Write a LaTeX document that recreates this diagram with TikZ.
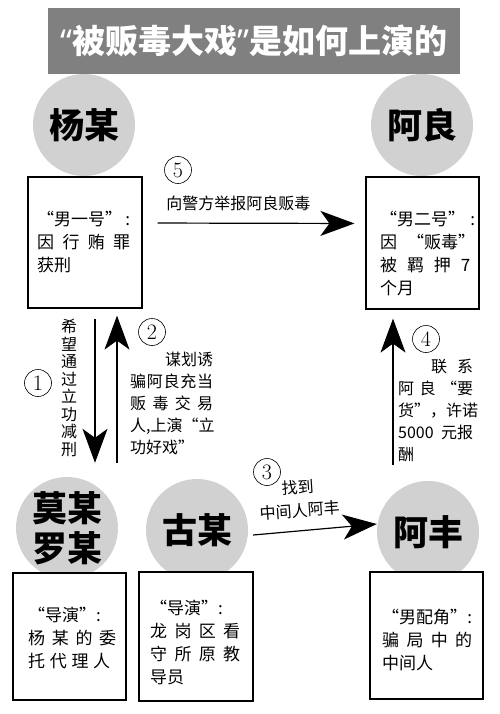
\documentclass[tikz,border=0pt]{standalone}
\usepackage{fontspec}
\newfontfamily\cjk{Noto Sans CJK SC}
\newfontfamily\lat{Noto Sans}
\usepackage{tikz}
\usetikzlibrary{arrows.meta, positioning}
\definecolor{barGray}{gray}{0.5}
\definecolor{ballGray}{gray}{0.82}
\tikzset{
  titlebar/.style={fill=barGray, text=white, minimum width=412pt, minimum height=66pt,
    font=\cjk\bfseries\fontsize{33}{33}\selectfont},
  person/.style={circle, fill=ballGray, minimum size=102pt, inner sep=0pt, align=center,
    font=\cjk\bfseries\fontsize{35}{40}\selectfont},
  card/.style={draw, fill=white, line width=1.2pt, inner sep=0pt},
  cardtext/.style={anchor=north west, inner sep=0pt, align=left,
    font=\cjk\fontsize{17}{23}\selectfont},
  note/.style={inner sep=0pt, align=left, font=\cjk\fontsize{16}{22}\selectfont},
  num/.style={circle, draw, line width=0.6pt, inner sep=0pt, minimum size=27pt,
    font=\fontsize{22}{22}\selectfont},
  bigarrow/.style={line width=1.2pt, -{Stealth[length=34pt, width=25pt, inset=9pt]}}
}

\begin{document}
\begin{tikzpicture}[x=1pt, y=-1pt]
      \useasboundingbox (0,0) rectangle (500,714);
      % title and the five people
      \node[titlebar](title) at (254, 41) {{\lat “}被贩毒大戏{\lat ”}是如何上演的};
      \node[person](yang) at (84, 125) {杨某};
      \node[person](aliang) at (422, 125) {阿良};
      \node[person](mo) at (67, 528) {莫某\\罗某};
      \node[person](gu) at (197, 530) {古某};
      \node[person](afeng) at (428, 532) {阿丰};

      % role cards
      \node[card, minimum width=114pt, minimum height=131pt](yangbox) at (85, 242.5) {};
      \node[card, minimum width=113pt, minimum height=132pt](aliangbox) at (422.5, 243) {};
      \node[card, minimum width=113pt, minimum height=127pt](mobox) at (69.5, 636.5) {};
      \node[card, minimum width=114pt, minimum height=129pt](gubox) at (196, 636.5) {};
      \node[card, minimum width=113pt, minimum height=127pt](afengbox) at (426.5, 635.5) {};

      \node[cardtext](yangtext) at (37, 211) {\hbox to 93pt{“男一号”\hfil:}\\
        \hbox to 93pt{因\hfil 行\hfil 贿\hfil 罪}\\ 获刑};
      \node[cardtext](aliangtext) at (380, 211) {\hbox to 95pt{“男二号”\hfil:}\\
        \hbox to 95pt{因\hfil“贩毒”}\\ \hbox to 90pt{被\hfil 羁\hfil 押\hfil 7}\\ 个月};
      \node[cardtext](motext) at (28, 607) {“导演”:\\
        \hbox to 88pt{杨\hfil 某\hfil 的\hfil 委}\\ \hbox to 82pt{托\hfil 代\hfil 理\hfil 人}};
      \node[cardtext](gutext) at (150, 600) {“导演”:\\
        \hbox to 90pt{龙\hfil 岗\hfil 区\hfil 看}\\ \hbox to 90pt{守\hfil 所\hfil 原\hfil 教}\\ 导员};
      \node[cardtext](afengtext) at (382, 609) {\hbox to 90pt{“男配角”\hfil:}\\
        \hbox to 90pt{骗\hfil 局\hfil 中\hfil 的}\\ 中间人};

      % steps
      \draw[bigarrow, shorten <=10pt, shorten >=14pt] ([xshift=10pt]yangbox.south)
        -- ([xshift=10pt]yangbox.south |- mo.north);
      \node[num](n1) at (38, 383) {1};
      \node[note, align=center, font=\cjk\fontsize{16}{17.5}\selectfont](t1) at (69, 388)
        {希\\望\\通\\过\\立\\功\\减\\刑};

      \draw[bigarrow, shorten <=14pt, shorten >=7pt] ([xshift=32pt]yangbox.south |- mo.north)
        -- ([xshift=32pt]yangbox.south);
      \node[num](n2) at (152, 332) {2};
      \node[note, anchor=north west](t2) at (130, 352) {\hbox to 83pt{\hfill 谋划诱}\\
        \hbox to 83pt{骗\hfil 阿\hfil 良\hfil 充\hfil 当}\\ \hbox to 83pt{贩\hfil 毒\hfil 交\hfil 易}\\
        \hbox to 83pt{人,上演\hfil“立}\\ 功好戏”};

      \draw[bigarrow] ([shift={(5pt,-5pt)}]gu.east) -- ([yshift=8pt]afeng.west);
      \node[num](n3) at (267, 472) {3};
      \node[note, align=center, rotate=4, font=\cjk\fontsize{16}{23}\selectfont](t3) at (299, 499)
        {找到\\中间人阿丰};

      \draw[bigarrow, shorten <=16pt, shorten >=9pt] ([xshift=-35pt]afeng.north)
        -- ([xshift=-35pt]afeng.north |- aliangbox.south);
      \node[num](n4) at (426, 339) {4};
      \node[note, anchor=north west](t4) at (398, 359) {\hbox to 75pt{\hfill 联\hspace{10pt}系}\\
        \hbox to 75pt{阿\hfil 良\hfil“要}\\ \hbox to 75pt{货”，\hfil 许诺}\\
        \hbox to 75pt{5000\hfil 元报}\\ 酬};

      \draw[bigarrow, shorten <=15pt, shorten >=11pt] ([yshift=19.5pt]yangbox.east)
        -- ([yshift=19.5pt]aliangbox.west) node[note, pos=0.43, above=12pt](t5) {向警方举报阿良贩毒};
      \node[num](n5) at (178, 170) {5};
\end{tikzpicture}
\end{document}
